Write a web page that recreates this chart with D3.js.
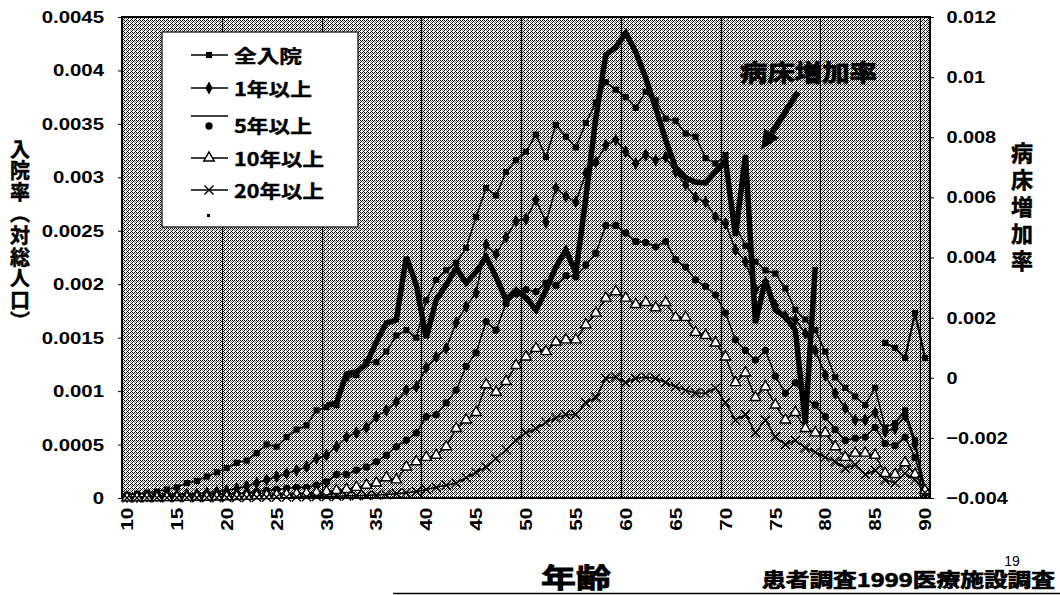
<!DOCTYPE html>
<html>
<head>
<meta charset="utf-8">
<script src="https://cdn.jsdelivr.net/npm/d3@7"></script>
<style>
  body { margin: 0; background: #fff; }
  svg { display: block; }
</style>
</head>
<body>
<svg id="chart" width="1060" height="595"></svg>
<script>
// ---- data ----
const ages = [10, 11, 12, 13, 14, 15, 16, 17, 18, 19,
  20, 21, 22, 23, 24, 25, 26, 27, 28, 29,
  30, 31, 32, 33, 34, 35, 36, 37, 38, 39,
  40, 41, 42, 43, 44, 45, 46, 47, 48, 49,
  50, 51, 52, 53, 54, 55, 56, 57, 58, 59,
  60, 61, 62, 63, 64, 65, 66, 67, 68, 69,
  70, 71, 72, 73, 74, 75, 76, 77, 78, 79,
  80, 81, 82, 83, 84, 85, 86, 87, 88, 89, 90];

const seriesNames = ["全入院", "1年以上", "5年以上", "10年以上", "20年以上"];

const allInpatient = [0.00003, 0.00004, 0.00005, 0.00006, 0.00008, 0.0001, 0.00014, 0.00016, 0.0002, 0.00024,
  0.00028, 0.00033, 0.00035, 0.00042, 0.0005, 0.00048, 0.00057, 0.00064, 0.00068, 0.00082,
  0.00085, 0.00087, 0.00112, 0.00115, 0.00127, 0.00127, 0.00137, 0.00152, 0.00157, 0.0015,
  0.00185, 0.00204, 0.00213, 0.0022, 0.00234, 0.00263, 0.0029, 0.00283, 0.00305, 0.00316,
  0.00324, 0.0034, 0.00319, 0.00349, 0.00338, 0.00328, 0.00351, 0.0037, 0.00389, 0.00382,
  0.00375, 0.00365, 0.0038, 0.00372, 0.00355, 0.00353, 0.00341, 0.00338, 0.00318, 0.00313,
  0.00321, 0.00255, 0.00236, 0.00221, 0.00213, 0.0021, 0.00196, 0.00176, 0.00167, 0.00157,
  0.00137, 0.00113, 0.00103, 0.00095, 0.00087, 0.00103, 0.00066, 0.0007, 0.00082, 0.00054,
  0.00007];

const oneYear = [0.00001, 0.00001, 0.000015, 0.00002, 0.000025, 0.00003, 0.000035, 0.00004, 0.00005, 0.00006,
  0.00007, 0.00009, 0.00011, 0.00014, 0.00017, 0.0002, 0.00023, 0.00026, 0.00029, 0.00037,
  0.0004, 0.00048, 0.00057, 0.00061, 0.00066, 0.00076, 0.00082, 0.0009, 0.00101, 0.00104,
  0.00122, 0.00132, 0.0014, 0.00164, 0.00179, 0.00192, 0.00237, 0.00228, 0.00244, 0.00259,
  0.00261, 0.00279, 0.00258, 0.0029, 0.00282, 0.00277, 0.00304, 0.00314, 0.0033, 0.00335,
  0.00324, 0.00313, 0.00321, 0.00316, 0.00319, 0.00305, 0.00293, 0.00281, 0.00277, 0.00263,
  0.00257, 0.00232, 0.00221, 0.00195, 0.00202, 0.0018, 0.0017, 0.00167, 0.00154, 0.00138,
  0.00115, 0.00098, 0.00084, 0.00073, 0.00073, 0.0008, 0.00062, 0.00065, 0.00077, 0.0005,
  0.00005];

const fiveYear = [0.000005, 0.000005, 0.000007, 0.00001, 0.000012, 0.000015, 0.000018, 0.00002, 0.000025, 0.00003,
  0.000035, 0.00004, 0.00005, 0.00006, 0.00007, 0.00008, 0.00009, 0.0001, 0.0001, 0.00012,
  0.00015, 0.00022, 0.00022, 0.00026, 0.00029, 0.00034, 0.0004, 0.00048, 0.00054, 0.00061,
  0.00076, 0.00078, 0.00089, 0.00101, 0.00123, 0.00136, 0.00165, 0.00157, 0.00182, 0.00191,
  0.00195, 0.00193, 0.00201, 0.00199, 0.00208, 0.00207, 0.00218, 0.00229, 0.00255, 0.00255,
  0.00248, 0.0024, 0.00239, 0.00235, 0.0024, 0.00223, 0.00216, 0.00204, 0.00198, 0.0019,
  0.00173, 0.00148, 0.00138, 0.00129, 0.00138, 0.00114, 0.00098, 0.00108, 0.00093, 0.00087,
  0.00076, 0.00064, 0.00054, 0.00056, 0.00057, 0.00066, 0.00051, 0.00049, 0.00057, 0.00038,
  0.00007];

const tenYear = [0.000002, 0.000002, 0.000003, 0.000003, 0.000004, 0.000005, 0.000006, 0.000007, 0.000008, 0.00001,
  0.000012, 0.000014, 0.000016, 0.00002, 0.000023, 0.000027, 0.000032, 0.000038, 0.000045, 0.000052,
  0.00006, 0.00007, 0.00008, 0.0001, 0.00012, 0.00014, 0.00019, 0.00017, 0.00029, 0.00034,
  0.00038, 0.0004, 0.00048, 0.00065, 0.00073, 0.0008, 0.00106, 0.00099, 0.00109, 0.00124,
  0.00132, 0.0014, 0.00137, 0.00146, 0.00148, 0.00148, 0.00162, 0.00173, 0.00187, 0.00193,
  0.00187, 0.00181, 0.00183, 0.00178, 0.00183, 0.00169, 0.00169, 0.00155, 0.00152, 0.00145,
  0.00132, 0.00108, 0.00117, 0.00094, 0.00104, 0.00087, 0.00073, 0.0008, 0.00065, 0.00061,
  0.00061, 0.00048, 0.00038, 0.00042, 0.00042, 0.0004, 0.00023, 0.00022, 0.00033, 0.00022,
  0.00007];

const twentyYear = [0.000001, 0.000001, 0.000001, 0.000002, 0.000002, 0.000002, 0.000003, 0.000003, 0.000004, 0.000004,
  0.000005, 0.000005, 0.000006, 0.000007, 0.000008, 0.000009, 0.00001, 0.000011, 0.000012, 0.000014,
  0.000015, 0.000017, 0.00002, 0.000022, 0.000025, 0.000028, 0.000032, 0.00004, 0.00005, 0.00006,
  0.00008, 0.0001, 0.00012, 0.00014, 0.00019, 0.00024, 0.00029, 0.00037, 0.00045, 0.00054,
  0.00061, 0.00065, 0.00071, 0.00075, 0.00078, 0.00078, 0.00089, 0.00094, 0.00112, 0.00113,
  0.00108, 0.00112, 0.00113, 0.00112, 0.00108, 0.00104, 0.00101, 0.00098, 0.00098, 0.00103,
  0.00089, 0.00073, 0.00078, 0.00061, 0.00073, 0.00057, 0.0005, 0.00054, 0.00047, 0.00043,
  0.00038, 0.00034, 0.00028, 0.00031, 0.00022, 0.00026, 0.00017, 0.00014, 0.00023, 0.00017,
  0.00005];

// 病床増加率 (right axis); null where the scan shows no line
const bedIncrease = [null, null, null, null, null, null, null, null, null, null,
  null, null, null, null, null, null, null, null, null, null,
  -0.00091, -0.00084, 0.00013, 0.00019, 0.00046, 0.00119, 0.00182, 0.00192, 0.00402, 0.00309,
  0.00132, 0.00259, 0.00309, 0.00365, 0.00315, 0.00352, 0.00402, 0.00335, 0.00259, 0.00292,
  0.00266, 0.00225, 0.00292, 0.00368, 0.00425, 0.00349, 0.00598, 0.00864, 0.01074, 0.011,
  0.01147, 0.01084, 0.00997, 0.00897, 0.00791, 0.00698, 0.00665, 0.00651, 0.00648, 0.00685,
  0.00724, 0.00472, 0.00741, 0.00182, 0.00325, 0.00225, 0.00202, 0.00159, -0.0015, 0.00368,
  null, null, null, null, null, null, 0.00116, 0.00099, 0.00066, 0.00215,
  0.00066];

const xTickLabels = [10, 15, 20, 25, 30, 35, 40, 45, 50, 55, 60, 65, 70, 75, 80, 85, 90];
const leftTickValues = [0, 0.0005, 0.001, 0.0015, 0.002, 0.0025, 0.003, 0.0035, 0.004, 0.0045];
const leftTickLabels = ["0", "0.0005", "0.001", "0.0015", "0.002", "0.0025", "0.003", "0.0035", "0.004", "0.0045"];
const rightTickValues = [-0.004, -0.002, 0, 0.002, 0.004, 0.006, 0.008, 0.01, 0.012];
const rightTickLabels = ["\u22120.004", "\u22120.002", "0", "0.002", "0.004", "0.006", "0.008", "0.01", "0.012"];

// ---- layout ----
const svg = d3.select("#chart");
const plot = { left: 122, right: 930, top: 17, bottom: 498 };
const numFont = "'Liberation Sans', Arial, sans-serif";
const jpFont = "'Noto Sans CJK JP', 'Noto Sans CJK SC', sans-serif";

const x = d3.scaleBand().domain(ages).range([plot.left, plot.right]).padding(0);
const cx = a => x(a) + x.bandwidth() / 2;
const yL = d3.scaleLinear().domain([0, 0.0045]).range([plot.bottom, plot.top]);
const yR = d3.scaleLinear().domain([-0.004, 0.012]).range([plot.bottom, plot.top]);

const markerTypes = {
  square: { type: d3.symbolSquare, size: 38, fill: "#000", stroke: "none" },
  diamond: { type: d3.symbolDiamond, size: 48, fill: "#000", stroke: "none" },
  circle: { type: d3.symbolCircle, size: 42, fill: "#000", stroke: "none" },
  triangle: { type: d3.symbolTriangle, size: 48, fill: "#fff", stroke: "#000" },
  cross: { type: d3.symbolX || d3.symbolCross, size: 56, fill: "none", stroke: "#000" }
};

const series = [
  { name: seriesNames[0], values: allInpatient, marker: "square" },
  { name: seriesNames[1], values: oneYear, marker: "diamond" },
  { name: seriesNames[2], values: fiveYear, marker: "circle" },
  { name: seriesNames[3], values: tenYear, marker: "triangle" },
  { name: seriesNames[4], values: twentyYear, marker: "cross" }
];
series.forEach(s => { s.points = ages.map((a, i) => ({ age: a, v: s.values[i] })); });

function drawSymbol(g, kind, px, py) {
  const m = markerTypes[kind];
  g.append("path")
    .attr("d", d3.symbol().type(m.type).size(m.size)())
    .attr("transform", `translate(${px},${py})`)
    .attr("fill", m.fill)
    .attr("stroke", m.stroke)
    .attr("stroke-width", 1.4);
}

// heavy Japanese text, optionally forced to a width
function jpText(parent, str, px, py, size, opts = {}) {
  const t = parent.append("text")
    .text(str)
    .attr("x", px).attr("y", py)
    .attr("font-family", jpFont)
    .attr("font-weight", 700)
    .attr("font-size", size)
    .attr("text-anchor", opts.anchor || "start")
    .attr("dominant-baseline", "central")
    .attr("fill", "#000")
    .attr("stroke", "#000")
    .attr("stroke-width", opts.bold == null ? 0.5 : opts.bold);
  if (opts.length) t.attr("textLength", opts.length).attr("lengthAdjust", "spacingAndGlyphs");
  return t;
}

// ---- plot background (dithered grey like the scan) ----
const defs = svg.append("defs");
const pat = defs.append("pattern").attr("id", "dither")
  .attr("width", 4).attr("height", 4).attr("patternUnits", "userSpaceOnUse");
pat.append("rect").attr("width", 4).attr("height", 4).attr("fill", "#fff");
[[0, 0], [2, 0], [1, 1], [3, 1], [0, 2], [2, 2], [3, 3]].forEach(([px, py]) =>
  pat.append("rect").attr("x", px).attr("y", py).attr("width", 1).attr("height", 1)
    .attr("fill", (px + py) % 4 === 0 && px > 0 ? "#888" : "#000"));

svg.append("rect")
  .attr("x", plot.left).attr("y", plot.top)
  .attr("width", plot.right - plot.left).attr("height", plot.bottom - plot.top)
  .attr("fill", "url(#dither)")
  .attr("shape-rendering", "crispEdges");

// vertical grid every ten categories
const gridAges = ages.filter(a => a > 10 && (a - 10) % 10 === 0);
svg.append("g").selectAll("line").data(gridAges).join("line")
  .attr("x1", a => Math.round(x(a)) + 0.5).attr("x2", a => Math.round(x(a)) + 0.5)
  .attr("y1", plot.top).attr("y2", plot.bottom)
  .attr("stroke", "#000").attr("stroke-width", 1.2);

// plot frame
svg.append("rect")
  .attr("x", plot.left).attr("y", plot.top)
  .attr("width", plot.right - plot.left).attr("height", plot.bottom - plot.top)
  .attr("fill", "none").attr("stroke", "#000").attr("stroke-width", 2);

// ---- axes ----
const leftAxis = svg.append("g")
  .attr("transform", `translate(${plot.left},0)`)
  .call(d3.axisLeft(yL).tickValues(leftTickValues).tickFormat((d, i) => leftTickLabels[i]).tickSize(4).tickPadding(11))
  .call(g => g.select(".domain").remove());
leftAxis.attr("font-family", numFont).attr("font-size", 17).attr("font-weight", "bold");
leftAxis.selectAll("text").attr("transform", "scale(1.2,1)").attr("fill", "#000");
leftAxis.selectAll("line").attr("stroke", "#000");

const rightAxis = svg.append("g")
  .attr("transform", `translate(${plot.right},0)`)
  .call(d3.axisRight(yR).tickValues(rightTickValues).tickFormat((d, i) => rightTickLabels[i]).tickSize(4).tickPadding(10))
  .call(g => g.select(".domain").remove());
rightAxis.attr("font-family", numFont).attr("font-size", 17).attr("font-weight", "bold");
rightAxis.selectAll("text").attr("transform", "scale(1.17,1)").attr("fill", "#000");
rightAxis.selectAll("line").attr("stroke", "#000");

const bottomAxis = svg.append("g")
  .attr("transform", `translate(0,${plot.bottom})`)
  .call(d3.axisBottom(x).tickValues(xTickLabels).tickSize(0))
  .call(g => g.select(".domain").remove());
bottomAxis.attr("font-family", numFont).attr("font-size", 17).attr("font-weight", "bold");
bottomAxis.selectAll("text")
  .attr("y", 0).attr("x", -8).attr("dy", "0.36em")
  .attr("text-anchor", "end")
  .attr("transform", "rotate(-90) scale(1.22,1)")
  .attr("fill", "#000");

// ---- series ----
const lineL = d3.line().x(d => cx(d.age)).y(d => yL(d.v));
const linesG = svg.append("g");
series.forEach(s => {
  linesG.append("path")
    .datum(s.points)
    .attr("d", lineL)
    .attr("fill", "none")
    .attr("stroke", "#000")
    .attr("stroke-width", 1.5);
});

// 病床増加率: split into contiguous runs, first run heavy, later run thin with markers
const bedPoints = ages.map((a, i) => ({ age: a, v: bedIncrease[i] }));
const runs = [];
let cur = [];
bedPoints.forEach(p => {
  if (p.v === null) { if (cur.length) runs.push(cur); cur = []; }
  else cur.push(p);
});
if (cur.length) runs.push(cur);

const lineR = d3.line().x(d => cx(d.age)).y(d => yR(d.v));
runs.forEach((run, k) => {
  svg.append("path")
    .datum(run)
    .attr("d", lineR)
    .attr("fill", "none")
    .attr("stroke", "#000")
    .attr("stroke-width", k === 0 ? 5.5 : 2.2)
    .attr("stroke-linejoin", "miter")
    .attr("stroke-miterlimit", 3);
});

const markG = svg.append("g");
series.forEach(s => {
  s.points.forEach(p => drawSymbol(markG, s.marker, cx(p.age), yL(p.v)));
});
runs.slice(1).forEach(run => run.forEach(p => drawSymbol(markG, "square", cx(p.age), yR(p.v))));

// ---- legend ----
const legend = svg.append("g");
legend.append("rect")
  .attr("x", 162).attr("y", 32).attr("width", 196).attr("height", 195)
  .attr("fill", "#fff").attr("stroke", "#000").attr("stroke-width", 1.2);
const legendRows = [
  { label: seriesNames[0], marker: "square", y: 55, lineDy: 0, w: 68 },
  { label: seriesNames[1], marker: "diamond", y: 88, lineDy: 0, w: 78 },
  { label: seriesNames[2], marker: "circle", y: 125, lineDy: -9, w: 78 },
  { label: seriesNames[3], marker: "triangle", y: 158, lineDy: 0, w: 90 },
  { label: seriesNames[4], marker: "cross", y: 190, lineDy: 0, w: 90 }
];
legendRows.forEach(r => {
  legend.append("line")
    .attr("x1", 191).attr("x2", 228)
    .attr("y1", r.y + r.lineDy).attr("y2", r.y + r.lineDy)
    .attr("stroke", "#000").attr("stroke-width", 1.5);
  drawSymbol(legend, r.marker, 209, r.y + (r.lineDy ? 1 : 0));
  jpText(legend, r.label, 234, r.y, 18, { length: r.w, bold: 0.4 });
});
legend.append("rect").attr("x", 207).attr("y", 214).attr("width", 3).attr("height", 3).attr("fill", "#000");

// ---- titles and notes ----
svg.append("text")
  .text("入院率（対総人口）")
  .attr("x", 20).attr("y", 139)
  .attr("writing-mode", "vertical-rl")
  .style("writing-mode", "vertical-rl")
  .attr("font-family", jpFont).attr("font-weight", 700).attr("font-size", 20)
  .attr("letter-spacing", 1.6)
  .attr("stroke", "#000").attr("stroke-width", 0.5);

svg.append("text")
  .text("病床増加率")
  .attr("x", 1022).attr("y", 142)
  .attr("writing-mode", "vertical-rl")
  .style("writing-mode", "vertical-rl")
  .attr("font-family", jpFont).attr("font-weight", 700).attr("font-size", 22)
  .attr("letter-spacing", 5)
  .attr("stroke", "#000").attr("stroke-width", 0.5);

jpText(svg, "病床増加率", 740, 71, 23, { length: 137, bold: 0.8 });

// arrow pointing at the heavy line
const arrow = { x1: 798, y1: 92, x2: 761, y2: 150 };
const ang = Math.atan2(arrow.y2 - arrow.y1, arrow.x2 - arrow.x1);
const headLen = 20, headW = 9;
const bx = arrow.x2 - headLen * Math.cos(ang), by = arrow.y2 - headLen * Math.sin(ang);
svg.append("line")
  .attr("x1", arrow.x1).attr("y1", arrow.y1).attr("x2", bx).attr("y2", by)
  .attr("stroke", "#000").attr("stroke-width", 6);
svg.append("polygon")
  .attr("points", [
    [arrow.x2, arrow.y2],
    [bx + headW * Math.sin(ang), by - headW * Math.cos(ang)],
    [bx - headW * Math.sin(ang), by + headW * Math.cos(ang)]
  ].map(p => p.join(",")).join(" "))
  .attr("fill", "#000");

jpText(svg, "年齢", 541, 576, 27, { length: 70, bold: 0.8 });
jpText(svg, "患者調査1999医療施設調査", 762, 578, 19, { length: 293, bold: 0.7 });
svg.append("text").text("19")
  .attr("x", 1012).attr("y", 561)
  .attr("font-family", numFont).attr("font-size", 14)
  .attr("text-anchor", "middle").attr("dominant-baseline", "central");

svg.append("line")
  .attr("x1", 393).attr("x2", 1060).attr("y1", 593.5).attr("y2", 593.5)
  .attr("stroke", "#000").attr("stroke-width", 1.5);
</script>
</body>
</html>
